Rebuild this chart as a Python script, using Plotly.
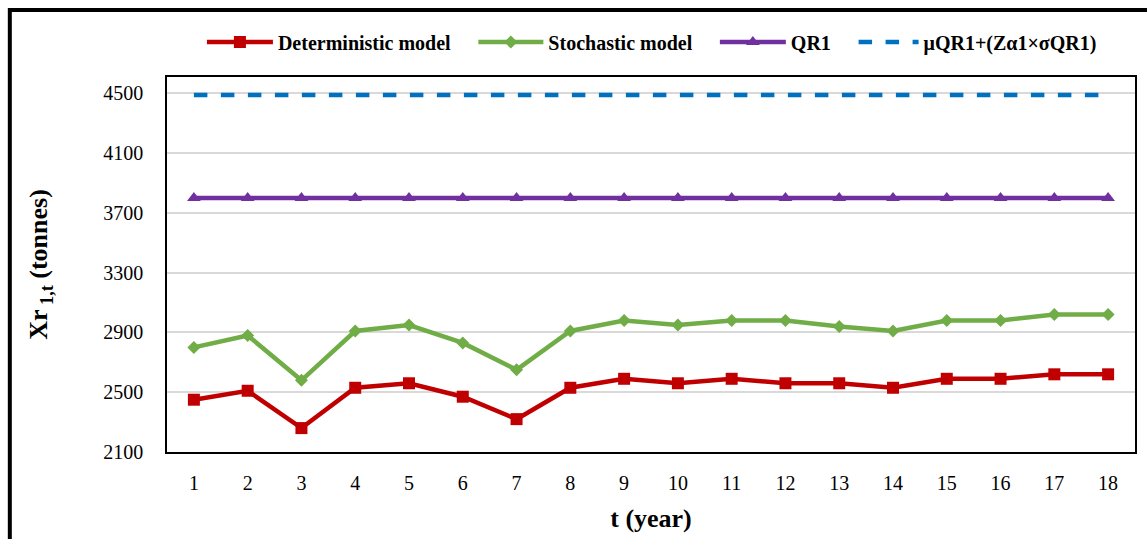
import plotly.graph_objects as go

# Years on the category axis
years = list(range(1, 19))

# Series values (tonnes)
deterministic = [2450, 2510, 2260, 2530, 2560, 2470, 2320, 2530, 2590,
                 2560, 2590, 2560, 2560, 2530, 2590, 2590, 2620, 2620]
stochastic = [2800, 2880, 2580, 2910, 2950, 2830, 2650, 2910, 2980,
              2950, 2980, 2980, 2940, 2910, 2980, 2980, 3020, 3020]
qr1 = [3800] * 18
qr1_upper = [4490] * 18

y_ticks = [2100, 2500, 2900, 3300, 3700, 4100, 4500]

SERIF = "Liberation Serif, Times New Roman, serif"

# Plot area geometry (px)
L, R, T, B = 167, 10, 77, 87
W, H = 1147, 539
pw, ph = W - L - R, H - T - B


def px_x(px):
    return (px - L) / pw


def px_y(py):
    return (H - B - py) / ph


fig = go.Figure()

fig.add_trace(go.Scatter(
    x=years, y=deterministic, name="Deterministic model", mode="lines+markers",
    line=dict(color="#C00000", width=4.5),
    marker=dict(symbol="square", size=12, color="#C00000"),
    legend="legend",
))
fig.add_trace(go.Scatter(
    x=years, y=stochastic, name="Stochastic model", mode="lines+markers",
    line=dict(color="#70AD47", width=4.5),
    marker=dict(symbol="diamond", size=10, color="#70AD47"),
    legend="legend2",
))
fig.add_trace(go.Scatter(
    x=years, y=qr1, name="QR1", mode="lines+markers",
    line=dict(color="#7030A0", width=4.5),
    marker=dict(symbol="triangle-up", size=12, color="#7030A0"),
    legend="legend3",
))
fig.add_trace(go.Scatter(
    x=years, y=qr1_upper, name="μQR1+(Zα1×σQR1)", mode="lines",
    line=dict(color="#0070C0", width=4.5, dash="dash"),
    legend="legend4",
))


def legend_at(left_px, item_w):
    return dict(
        orientation="h", x=px_x(left_px), y=px_y(42),
        xanchor="left", yanchor="middle",
        font=dict(family=SERIF, size=20, color="black", weight="bold"),
        itemwidth=item_w, bgcolor="rgba(0,0,0,0)",
    )


fig.update_layout(
    width=W, height=H,
    margin=dict(l=L, r=R, t=T, b=B),
    paper_bgcolor="white", plot_bgcolor="white",
    font=dict(family=SERIF, color="black"),
    showlegend=True,
    legend=legend_at(202, 66),
    legend2=legend_at(474, 65),
    legend3=legend_at(716, 66),
    legend4=legend_at(855, 60),
    xaxis=dict(
        range=[0.5, 18.5], tickmode="array", tickvals=years,
        ticktext=[str(v) for v in years],
        showgrid=False, zeroline=False, ticks="",
        showline=True, linecolor="black", linewidth=1.5, mirror=True,
        tickfont=dict(family=SERIF, size=20, color="black"),
        ticklabelstandoff=12,
        title=dict(text="<b>t (year)</b>", standoff=16,
                   font=dict(family=SERIF, size=26, color="black")),
    ),
    yaxis=dict(
        range=[2100, 4610], tickmode="array", tickvals=y_ticks,
        showgrid=True, gridcolor="#D9D9D9", gridwidth=1.5, zeroline=False, ticks="",
        showline=True, linecolor="black", linewidth=1.5, mirror=True,
        tickfont=dict(family=SERIF, size=20, color="black"),
        ticklabelstandoff=18,
        title=dict(text="<b>Xr<sub> 1,t</sub> (tonnes)</b>", standoff=48,
                   font=dict(family=SERIF, size=26, color="black")),
    ),
    shapes=[
        # outer frame: top and left edges
        dict(type="line", xref="paper", yref="paper",
             x0=px_x(8), x1=px_x(1160), y0=px_y(10), y1=px_y(10),
             line=dict(color="black", width=4)),
        dict(type="line", xref="paper", yref="paper",
             x0=px_x(9.5), x1=px_x(9.5), y0=px_y(8), y1=px_y(560),
             line=dict(color="black", width=4)),
    ],
)

fig.write_html("out.html")
